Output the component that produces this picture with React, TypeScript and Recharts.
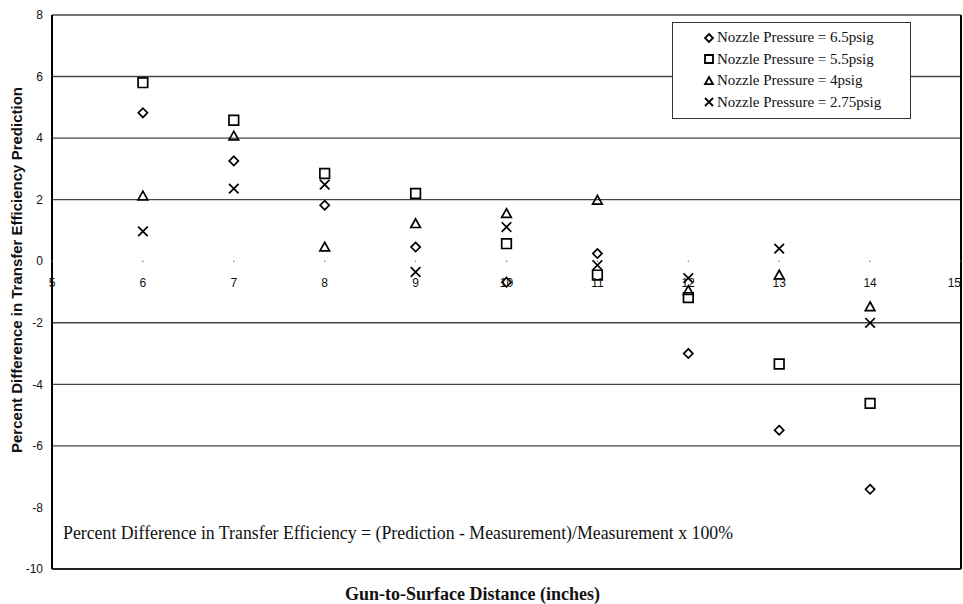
import React from 'react';
import { ScatterChart, Scatter, XAxis, YAxis, ReferenceLine, ReferenceDot } from 'recharts';

const distances = [6, 7, 8, 9, 10, 11, 12, 13, 14];
const xTicks = [5, 6, 7, 8, 9, 10, 11, 12, 13, 14, 15];
const yTicks = [-10, -8, -6, -4, -2, 0, 2, 4, 6, 8];
const gridValues = [8, 6, 4, 2, -2, -4, -6];

const p65 = [4.82, 3.26, 1.82, 0.46, -0.68, 0.25, -3.0, -5.49, -7.41];
const p55 = [5.8, 4.58, 2.85, 2.2, 0.57, -0.45, -1.18, -3.34, -4.62];
const p40 = [2.12, 4.07, 0.46, 1.22, 1.55, 1.98, -0.95, -0.45, -1.48];
const p275 = [0.97, 2.36, 2.49, -0.35, 1.11, -0.13, -0.55, 0.41, -2.0];

const seriesNames = [
  'Nozzle Pressure = 6.5psig',
  'Nozzle Pressure = 5.5psig',
  'Nozzle Pressure = 4psig',
  'Nozzle Pressure = 2.75psig',
];
const markers = ['diamond', 'square', 'triangle', 'x'];

const toPoints = (vals: number[]) => vals.map((v, i) => ({ x: distances[i], y: v }));

const W = 963;
const H = 604;
const SERIF = '"Liberation Serif", "DejaVu Serif", serif';
const SANS = '"Liberation Sans", Arial, sans-serif';

const markerPath = (kind: string, cx: number, cy: number, s: number) => {
  switch (kind) {
    case 'diamond':
      return `M${cx},${cy - s} L${cx + s},${cy} L${cx},${cy + s} L${cx - s},${cy} Z`;
    case 'square':
      return `M${cx - s},${cy - s} H${cx + s} V${cy + s} H${cx - s} Z`;
    case 'triangle':
      return `M${cx},${cy - s} L${cx + s},${cy + s * 0.8} L${cx - s},${cy + s * 0.8} Z`;
    default:
      return `M${cx - s},${cy - s} L${cx + s},${cy + s} M${cx + s},${cy - s} L${cx - s},${cy + s}`;
  }
};

const makeShape = (kind: string) => (props: any) => {
  const { cx, cy } = props;
  const s = kind === 'diamond' ? 4.6 : 4.8;
  return <path d={markerPath(kind, cx, cy, s)} fill="none" stroke="#000" strokeWidth={1.7} />;
};

const LegendBox = () => (
  <div
    style={{
      position: 'absolute',
      left: 672,
      top: 22,
      width: 239,
      height: 97,
      background: '#fff',
      border: '1px solid #333',
      fontFamily: SERIF,
      fontSize: 15,
      color: '#111',
      paddingTop: 4,
      boxSizing: 'border-box',
    }}
  >
    {seriesNames.map((name, i) => (
      <div key={name} style={{ display: 'flex', alignItems: 'center', height: 21.5, paddingLeft: 30 }}>
        <svg width={12} height={12} style={{ marginRight: 2 }}>
          <path d={markerPath(markers[i], 6, 6, 4)} fill="none" stroke="#000" strokeWidth={1.8} />
        </svg>
        <span>{name}</span>
      </div>
    ))}
  </div>
);

const YTitle = () => {
  const cx = 16;
  const cy = 270;
  return (
    <text
      x={cx}
      y={cy}
      transform={`rotate(-90, ${cx}, ${cy})`}
      textAnchor="middle"
      dominantBaseline="central"
      fontFamily={SANS}
      fontWeight="bold"
      fontSize={15}
      fill="#111"
    >
      Percent Difference in Transfer Efficiency Prediction
    </text>
  );
};

export default function App() {
  const series = [p65, p55, p40, p275];
  return (
    <div style={{ position: 'absolute', left: 0, top: 0, width: W, height: H, background: '#fff' }}>
      <ScatterChart width={W} height={H} margin={{ top: 15, right: 2, bottom: 35, left: 0 }}>
        <XAxis type="number" dataKey="x" domain={[5, 15]} ticks={xTicks} hide />
        <YAxis
          type="number"
          dataKey="y"
          domain={[-10, 8]}
          ticks={yTicks}
          width={52}
          tickLine={false}
          tickSize={0}
          tickMargin={9}
          axisLine={{ stroke: '#000', strokeWidth: 2 }}
          tick={{ fontFamily: SANS, fontSize: 12, fill: '#111' }}
          label={{ content: YTitle }}
        />
        {gridValues.map((v) => (
          <ReferenceLine key={v} y={v} stroke="#444" strokeWidth={1.4} />
        ))}
        <ReferenceLine y={-10} stroke="#222" strokeWidth={2} />
        <ReferenceLine x={15} stroke="#000" strokeWidth={2} />
        {xTicks.map((t) => (
          <ReferenceDot
            key={t}
            x={t}
            y={0}
            r={0.7}
            fill="#666"
            stroke="none"
            label={{
              value: t,
              position: 'bottom',
              offset: 17,
              style: {
                fontFamily: SANS,
                fontSize: 12,
                fill: '#111',
                textAnchor: t === 15 ? 'end' : 'middle',
              },
            }}
          />
        ))}
        {series.map((vals, i) => (
          <Scatter
            key={seriesNames[i]}
            name={seriesNames[i]}
            data={toPoints(vals)}
            shape={makeShape(markers[i])}
            isAnimationActive={false}
          />
        ))}
      </ScatterChart>
      <LegendBox />
      <div
        style={{
          position: 'absolute',
          left: 63,
          top: 523,
          fontFamily: SERIF,
          fontSize: 17.8,
          color: '#111',
          whiteSpace: 'nowrap',
        }}
      >
        Percent Difference in Transfer Efficiency = (Prediction - Measurement)/Measurement x 100%
      </div>
      <div
        style={{
          position: 'absolute',
          left: -9,
          width: W,
          top: 584,
          textAlign: 'center',
          fontFamily: SERIF,
          fontWeight: 'bold',
          fontSize: 18,
          color: '#111',
        }}
      >
        Gun-to-Surface Distance (inches)
      </div>
    </div>
  );
}
